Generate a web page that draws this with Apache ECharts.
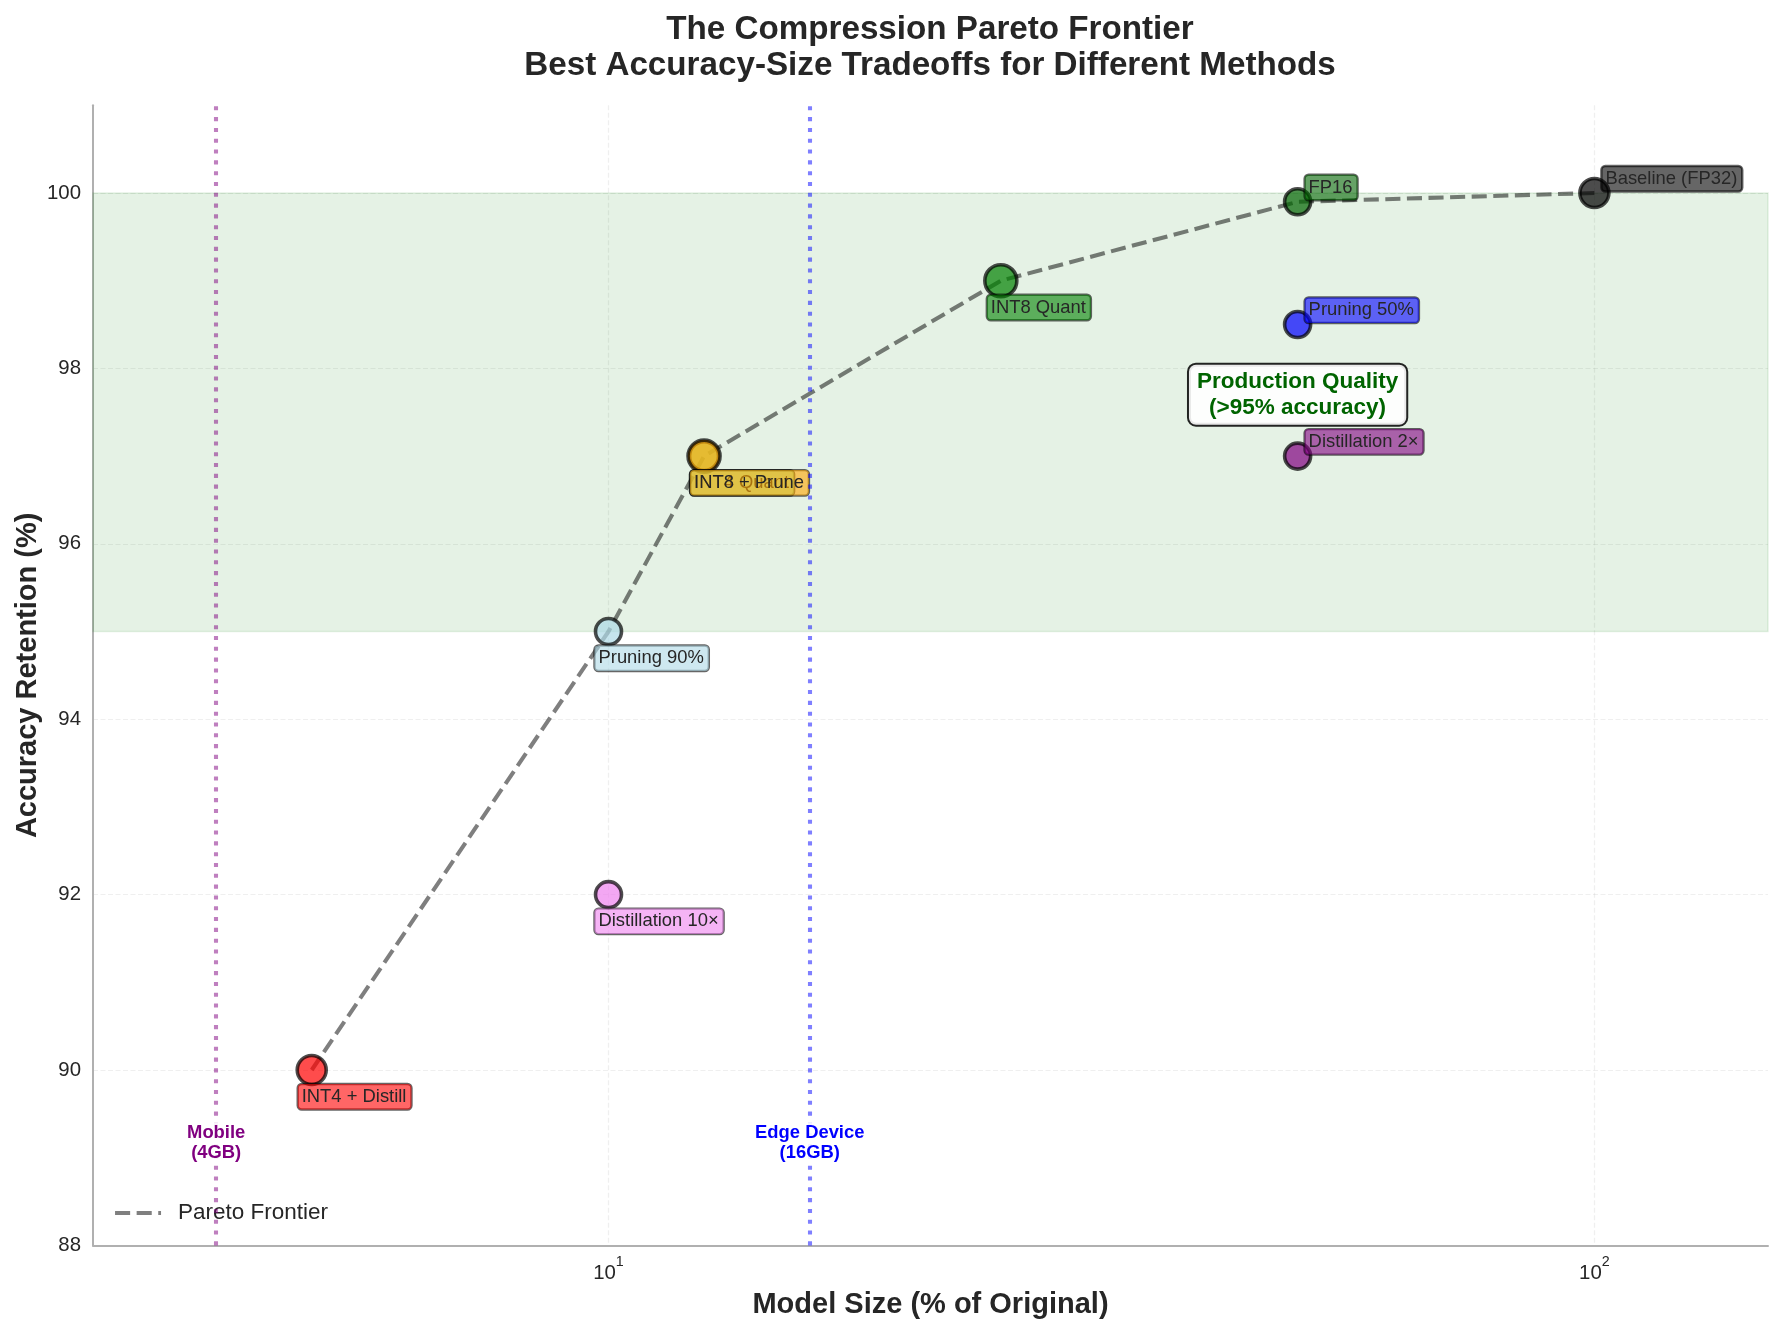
<!DOCTYPE html>
<html lang="en">
<head>
<meta charset="utf-8">
<title>The Compression Pareto Frontier</title>
<script src="https://cdn.jsdelivr.net/npm/echarts@6/dist/echarts.min.js"></script>
<style>
  html, body { margin: 0; padding: 0; background: #fff; }
  #chart { width: 1785px; height: 1334px; }
</style>
</head>
<body>
<div id="chart"></div>
<script>
// compression methods, in drawing order
var methods = ['Baseline (FP32)', 'FP16', 'INT8 Quant', 'INT4 Quant', 'Pruning 50%', 'Pruning 90%',
               'Distillation 2×', 'Distillation 10×', 'INT8 + Prune', 'INT4 + Distill'];
var modelSize = [100, 50, 25, 12.5, 50, 10, 50, 10, 12.5, 5];
var accuracy = [100, 99.9, 99, 97, 98.5, 95, 97, 92, 97, 90];

var frontierSize = [5, 10, 12.5, 25, 50, 100];
var frontierAccuracy = [90, 95, 97, 99, 99.9, 100];

var memoryLimitSize = [4, 16];
var memoryLimitNames = ['Mobile\n(4GB)', 'Edge Device\n(16GB)'];
var memoryLabelAccuracy = [89.17, 89.17];

var productionBand = [95, 100];
var productionNote = 'Production Quality\n(>95% accuracy)';
var productionNoteAt = [50, 97.7];

var xTicks = [10, 100];
var yTicks = [88, 90, 92, 94, 96, 98, 100];

// looks, by method
var methodColor = {
    'Baseline (FP32)': 'black', 'FP16': 'darkgreen', 'INT8 Quant': 'green', 'INT4 Quant': 'lightgreen',
    'Pruning 50%': 'blue', 'Pruning 90%': 'lightblue', 'Distillation 2×': 'purple',
    'Distillation 10×': 'violet', 'INT8 + Prune': 'orange', 'INT4 + Distill': 'red'
};
var methodDot = {
    'Baseline (FP32)': 29, 'FP16': 26, 'INT8 Quant': 32, 'INT4 Quant': 29, 'Pruning 50%': 26, 'Pruning 90%': 26,
    'Distillation 2×': 26, 'Distillation 10×': 26, 'INT8 + Prune': 32, 'INT4 + Distill': 29
};
var labelBelow = ['INT8 Quant', 'INT4 Quant', 'Pruning 90%', 'Distillation 10×', 'INT8 + Prune', 'INT4 + Distill'];

var FONT = '"Liberation Sans", Arial, sans-serif';
var INK = '#262626';
var GRID_LINE = { color: 'rgba(176,176,176,0.2)', width: 1.2, type: [5, 2.5] };
var alpha = echarts.color.modifyAlpha;

var chart = echarts.init(document.getElementById('chart'), null, { renderer: 'canvas' });

var points = methods.map(function (name, i) {
    var below = labelBelow.indexOf(name) >= 0;
    return {
        name: name,
        value: [modelSize[i], accuracy[i]],
        symbolSize: methodDot[name],
        itemStyle: { color: alpha(methodColor[name], 0.7), borderColor: 'rgba(0,0,0,0.7)', borderWidth: 3.6, opacity: 1 },
        label: {
            show: true,
            formatter: name,
            position: 'inside',
            align: 'left',
            verticalAlign: 'top',
            offset: below ? [-14, 14] : [7, -27],
            fontFamily: FONT,
            fontSize: 18.4,
            lineHeight: 17.5,
            color: INK,
            backgroundColor: alpha(methodColor[name], 0.6),
            borderColor: 'rgba(0,0,0,0.6)',
            borderWidth: 1.2,
            borderRadius: 4,
            padding: [4, 5, 4, 4]
        }
    };
});

var limitLabels = memoryLimitSize.map(function (size, i) {
    var col = i === 0 ? 'purple' : 'blue';
    return {
        value: [size, memoryLabelAccuracy[i]],
        label: {
            show: true, formatter: memoryLimitNames[i], position: 'inside',
            fontFamily: FONT, fontSize: 18.4, fontWeight: 'bold', lineHeight: 20.5, color: col,
            backgroundColor: 'rgba(255,255,255,0.9)', padding: [0, 2]
        }
    };
});
var noteLabel = {
    value: productionNoteAt,
    label: {
        show: true, formatter: productionNote, position: 'inside',
        fontFamily: FONT, fontSize: 22.5, fontWeight: 'bold', lineHeight: 26, color: 'darkgreen',
        backgroundColor: 'rgba(255,255,255,0.9)', borderColor: 'rgba(0,0,0,0.85)', borderWidth: 2,
        borderRadius: 7, padding: [4, 8]
    }
};

var option = {
    animation: false,
    backgroundColor: '#fff',
    title: {
        text: 'The Compression Pareto Frontier\nBest Accuracy-Size Tradeoffs for Different Methods',
        left: 930, top: 11.5, padding: 0, textAlign: 'center',
        textStyle: { fontFamily: FONT, fontSize: 33.2, fontWeight: 'bold', color: INK, lineHeight: 36.5 }
    },
    legend: {
        data: ['Pareto Frontier'], left: 113, top: 1201, itemWidth: 46, itemHeight: 30, padding: 0,
        itemStyle: { color: 'rgba(0,0,0,0)', opacity: 0, borderWidth: 0 },
        lineStyle: { color: 'rgba(0,0,0,0.5)', width: 4.08, type: [15.1, 6.5], cap: 'butt' },
        textStyle: { fontFamily: FONT, fontSize: 22.5, color: INK, padding: [0, 0, 0, 12] }
    },
    grid: { left: 93, right: 17, top: 105.3, bottom: 88.6 },
    xAxis: {
        type: 'log', logBase: 10, min: 3, max: 150,
        name: 'Model Size (% of Original)', nameLocation: 'middle', nameGap: 45,
        nameTextStyle: { fontFamily: FONT, fontSize: 29, fontWeight: 'bold', color: INK },
        axisLine: { lineStyle: { color: '#b0b0b0', width: 2 } },
        axisTick: { show: false, customValues: xTicks },
        minorTick: { show: false },
        axisLabel: {
            customValues: xTicks, margin: 10,
            formatter: function (v) { return '{b|10}{s|' + Math.round(Math.log10(v)) + '}'; },
            rich: {
                b: { fontFamily: FONT, fontSize: 20.4, color: INK, lineHeight: 28, verticalAlign: 'bottom' },
                s: { fontFamily: FONT, fontSize: 14.3, color: INK, lineHeight: 4, verticalAlign: 'top' }
            }
        },
        splitLine: { show: true, lineStyle: GRID_LINE }
    },
    yAxis: {
        type: 'value', min: 88, max: 101,
        name: 'Accuracy Retention (%)', nameLocation: 'middle', nameGap: 51, nameMoveOverlap: false,
        nameTextStyle: { fontFamily: FONT, fontSize: 29, fontWeight: 'bold', color: INK },
        axisLine: { show: true, lineStyle: { color: '#b0b0b0', width: 2 } },
        axisTick: { show: false, customValues: yTicks },
        axisLabel: { customValues: yTicks, margin: 12, fontFamily: FONT, fontSize: 20.4, color: INK },
        splitLine: { show: true, lineStyle: GRID_LINE }
    },
    series: [
        {
            name: 'Pareto Frontier',
            type: 'line',
            z: 3,
            symbol: 'none',
            data: frontierSize.map(function (s, i) { return [s, frontierAccuracy[i]]; }),
            lineStyle: { color: 'rgba(0,0,0,0.5)', width: 4.08, type: [15.1, 6.5], cap: 'butt' },
            itemStyle: { color: 'rgba(0,0,0,0.5)' },
            markArea: {
                silent: true,
                itemStyle: { color: 'rgba(0,128,0,0.1)', borderColor: 'rgba(0,128,0,0.1)', borderWidth: 1.5 },
                data: [[{ yAxis: productionBand[0] }, { yAxis: productionBand[1] }]]
            }
        },
        {
            name: 'Memory limits',
            type: 'line',
            z: 2,
            data: [],
            markLine: {
                silent: true, symbol: 'none', label: { show: false },
                data: memoryLimitSize.map(function (size, i) {
                    return {
                        xAxis: size,
                        lineStyle: { color: alpha(i === 0 ? 'purple' : 'blue', 0.5), width: 4.08, type: [4.08, 6.73] }
                    };
                })
            }
        },
        {
            name: 'Methods',
            type: 'scatter',
            z: 4,
            itemStyle: { opacity: 1 },
            data: points
        },
        {
            name: 'Notes',
            type: 'scatter',
            z: 5,
            silent: true,
            symbolSize: 1,
            itemStyle: { color: 'rgba(0,0,0,0)', opacity: 1 },
            data: limitLabels.concat([noteLabel])
        }
    ]
};

chart.setOption(option);
</script>
</body>
</html>
